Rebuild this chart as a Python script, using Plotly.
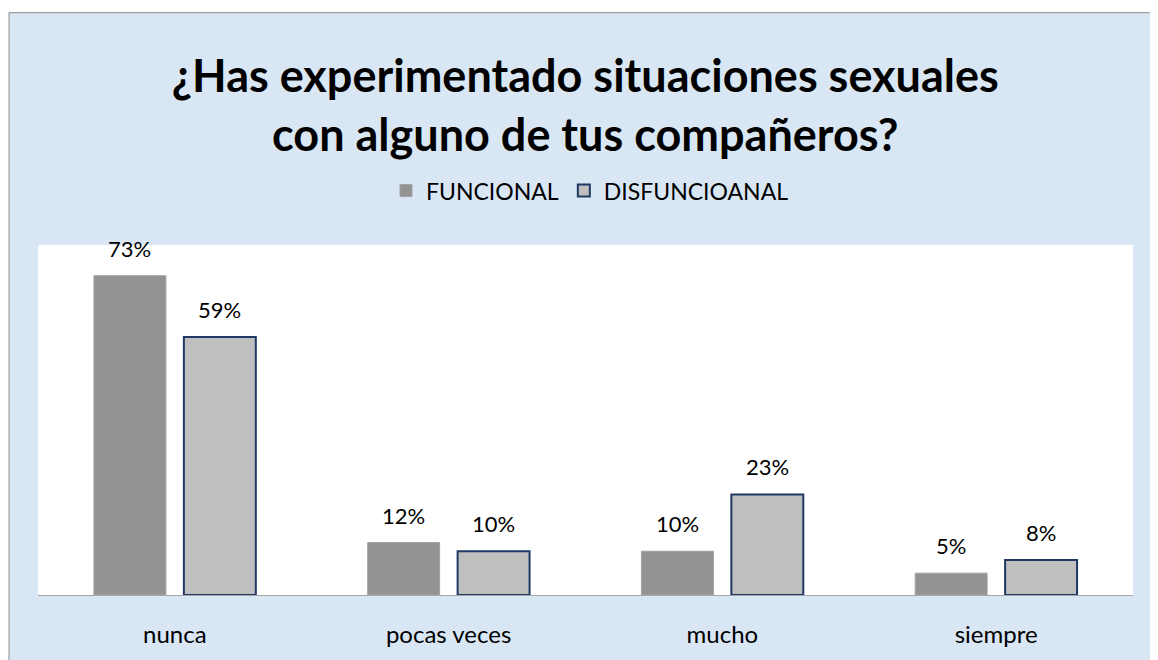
import plotly.graph_objects as go

categories = ["nunca", "pocas veces", "mucho", "siempre"]
funcional = [73, 12, 10, 5]
disfuncional = [59, 10, 23, 8]
series_names = ["FUNCIONAL", "DISFUNCIOANAL"]
title_lines = ["¿Has experimentado situaciones sexuales", "con alguno de tus compañeros?"]

# page body has an 8px margin; figure drawn in the remaining area
W, H = 1150, 652
L, R, T, B = 30, 25, 237, 61
pw, ph = W - L - R, H - T - B
BARGAP, GROUPGAP = 0.343, 0.2

def px_x(p):
    return (p - L) / pw

def px_y(p):
    return (H - B - p) / ph

FONT = "Lato"
LABEL_SIZE = 22

fig = go.Figure()
fig.add_trace(go.Bar(
    x=categories, y=funcional, name=series_names[0],
    marker=dict(color="#939393", line=dict(color="#a3a3a3", width=1)),
))
fig.add_trace(go.Bar(
    x=categories, y=disfuncional, name=series_names[1],
    marker=dict(color="#bfbfbf", line=dict(color="#1f3864", width=2)),
))

# value labels above each bar
slot = (1 - BARGAP) * pw / len(categories) / 2
annotations = []
for series, shift in ((funcional, -slot / 2), (disfuncional, slot / 2)):
    for cat, v in zip(categories, series):
        annotations.append(dict(
            x=cat, y=v, xref="x", yref="y", text=f"{v}%", showarrow=False,
            xanchor="center", yanchor="bottom", xshift=shift, yshift=12,
            font=dict(size=LABEL_SIZE, family=FONT, color="#000000"),
        ))

shapes = [
    dict(type="rect", xref="paper", yref="paper", layer="below",
         x0=px_x(1), x1=px_x(W + 20), y0=px_y(H + 20), y1=px_y(2),
         fillcolor="#d9e7f5", line=dict(color="#8c8c8c", width=1)),
    dict(type="rect", xref="paper", yref="paper", layer="below",
         x0=0, x1=1, y0=0, y1=1, fillcolor="#ffffff", line=dict(width=0)),
]

fig.update_layout(
    width=W, height=H,
    margin=dict(l=L, r=R, t=T, b=B),
    paper_bgcolor="#ffffff", plot_bgcolor="rgba(0,0,0,0)",
    barmode="group", bargap=BARGAP, bargroupgap=GROUPGAP,
    font=dict(family=FONT, color="#000000"),
    title=dict(text="<br>".join(title_lines), x=0.502, xanchor="center",
               y=1 - 84 / H, yanchor="middle",
               font=dict(size=45, family=FONT, color="#000000", weight="bold")),
    legend=dict(orientation="h", x=px_x(582), xanchor="center",
                y=px_y(182), yanchor="middle", font=dict(size=23, family=FONT),
                bgcolor="rgba(0,0,0,0)"),
    shapes=shapes,
    annotations=annotations,
    showlegend=True,
)
fig.update_xaxes(showline=True, linecolor="#a6a6a6", linewidth=1,
                 ticks="", tickfont=dict(size=24, family=FONT),
                 ticklabelstandoff=18, showgrid=False)
fig.update_yaxes(range=[0, 80], visible=False, showgrid=False)

fig.write_html("out.html")
